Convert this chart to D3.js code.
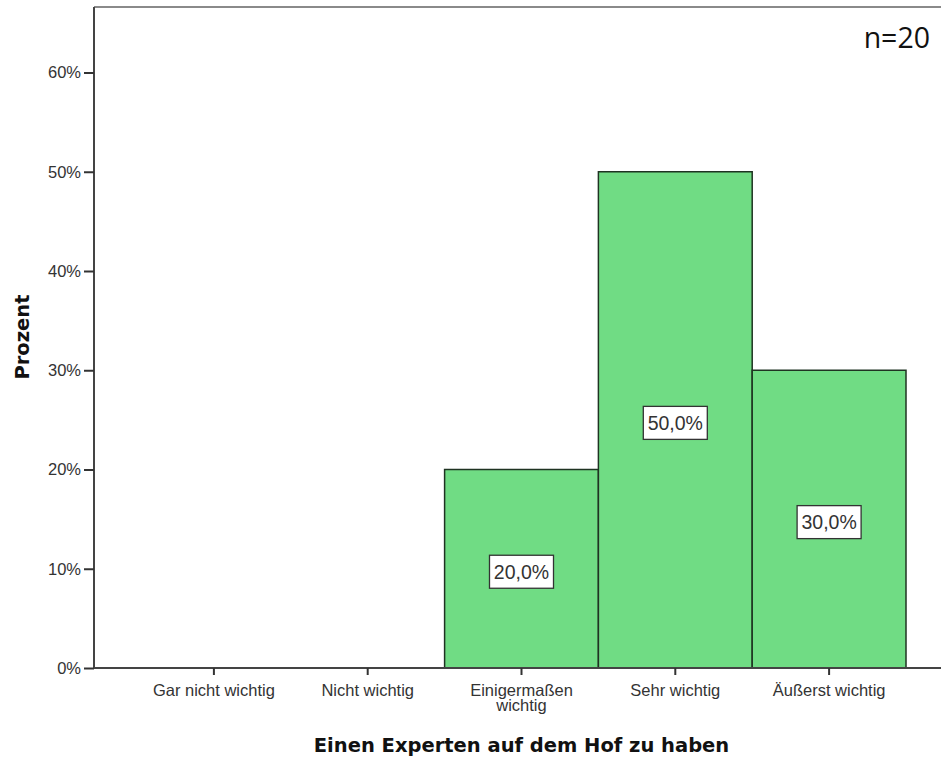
<!DOCTYPE html>
<html>
<head>
<meta charset="utf-8">
<script src="https://cdn.jsdelivr.net/npm/d3@7"></script>
<style>
  html, body { margin: 0; padding: 0; background: #fff; }
  svg { display: block; }
</style>
</head>
<body>
<svg id="chart" width="941" height="758"></svg>
<script>
const categories = ["Gar nicht wichtig", "Nicht wichtig", "Einigermaßen wichtig", "Sehr wichtig", "Äußerst wichtig"];
const categoryLines = [["Gar nicht wichtig"], ["Nicht wichtig"], ["Einigermaßen", "wichtig"], ["Sehr wichtig"], ["Äußerst wichtig"]];
const percents = [0, 0, 20, 50, 30];
const yTicks = [0, 10, 20, 30, 40, 50, 60];
const xTitle = "Einen Experten auf dem Hof zu haben";
const yTitle = "Prozent";
const note = "n=20";

const svg = d3.select("#chart");
const axisLeft = 94, plotTop = 7, plotBottom = 668, bandStart = 137, bandEnd = 906, plotRight = 941;
const sans = "Arial, 'Liberation Sans', sans-serif";

const x = d3.scaleBand().domain(categories).range([bandStart, bandEnd]).padding(0);
const y = d3.scaleLinear().domain([0, 66.6]).range([plotBottom, plotTop]);

// top border
svg.append("line").attr("x1", axisLeft).attr("x2", plotRight).attr("y1", plotTop).attr("y2", plotTop)
  .attr("stroke", "#8a8a8a").attr("stroke-width", 2);

// bars
svg.append("g").selectAll("rect").data(categories.map((c, i) => ({c, v: percents[i]})).filter(d => d.v > 0))
  .join("rect")
  .attr("x", d => x(d.c)).attr("width", x.bandwidth())
  .attr("y", d => y(d.v)).attr("height", d => y(0) - y(d.v))
  .attr("fill", "#70dc84").attr("stroke", "#1f3322").attr("stroke-width", 1.5);

// y axis
const yAxis = svg.append("g").attr("transform", `translate(${axisLeft},0)`)
  .call(d3.axisLeft(y).tickValues(yTicks).tickFormat(d => d + "%").tickSize(10).tickPadding(3));
yAxis.select(".domain").attr("d", `M0,${plotTop}V${plotBottom}`).attr("stroke", "#444").attr("stroke-width", 2);
yAxis.selectAll(".tick line").attr("stroke", "#333").attr("stroke-width", 2);
yAxis.selectAll(".tick text").attr("font-family", sans).attr("font-size", 16.5).attr("fill", "#333");

// x axis
const xAxis = svg.append("g").attr("transform", `translate(0,${plotBottom})`)
  .call(d3.axisBottom(x).tickSize(7).tickFormat(""));
xAxis.select(".domain").attr("d", `M${axisLeft},0H${plotRight}`).attr("stroke", "#444").attr("stroke-width", 2);
xAxis.selectAll(".tick line").attr("stroke", "#333").attr("stroke-width", 2);
xAxis.selectAll(".tick").each(function(d, i) {
  const t = d3.select(this).append("text")
    .attr("text-anchor", "middle").attr("fill", "#333")
    .attr("font-family", sans).attr("font-size", 16.5);
  categoryLines[i].forEach((ln, j) => {
    t.append("tspan").attr("x", 0).attr("y", 28 + j * 15).text(ln);
  });
});

// value labels
const labels = svg.append("g").selectAll("g").data(categories.map((c, i) => ({c, v: percents[i]})).filter(d => d.v > 0))
  .join("g")
  .attr("transform", d => `translate(${x(d.c) + x.bandwidth() / 2},${(y(d.v) + y(0)) / 2 + 3})`);
labels.append("rect").attr("x", -32).attr("y", -16.5).attr("width", 64).attr("height", 33)
  .attr("fill", "#fff").attr("stroke", "#333").attr("stroke-width", 1.3);
labels.append("text").attr("text-anchor", "middle").attr("y", 7)
  .attr("font-family", sans).attr("font-size", 19.5).attr("fill", "#333")
  .text(d => d.v.toFixed(1).replace(".", ",") + "%");

// axis titles
svg.append("text").attr("x", (bandStart + bandEnd) / 2).attr("y", 752).attr("text-anchor", "middle")
  .attr("font-family", "'DejaVu Sans', Verdana, sans-serif").attr("font-weight", "bold").attr("font-size", 19.5)
  .attr("fill", "#111").text(xTitle);
svg.append("text").attr("transform", `translate(29,337) rotate(-90)`).attr("text-anchor", "middle")
  .attr("font-family", "'DejaVu Sans', Verdana, sans-serif").attr("font-weight", "bold").attr("font-size", 19.5)
  .attr("fill", "#111").text(yTitle);

// n note
svg.append("text").attr("x", 930).attr("y", 48).attr("text-anchor", "end")
  .attr("font-family", "'Open Sans', 'Noto Sans', sans-serif").attr("font-size", 28.5).attr("fill", "#111").text(note);
</script>
</body>
</html>
